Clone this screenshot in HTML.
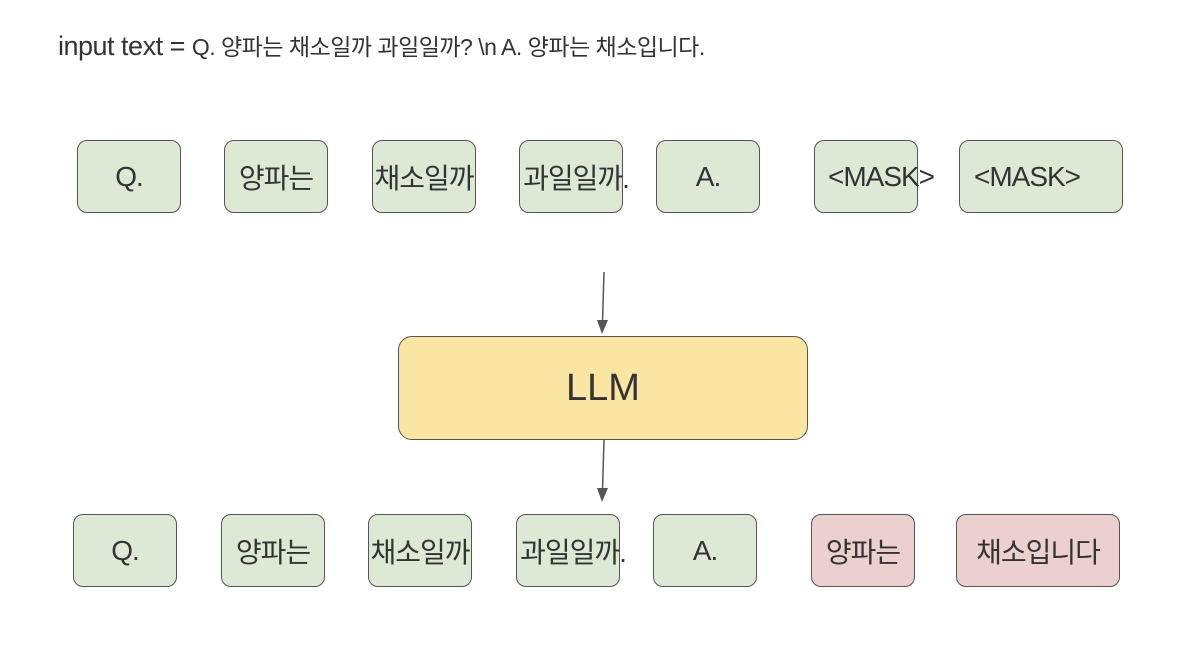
<!DOCTYPE html>
<html><head><meta charset="utf-8"><style>
body{margin:0;width:1192px;height:654px;background:#fff;position:relative;overflow:hidden;font-family:"Liberation Sans","Noto Sans CJK KR",sans-serif;color:#333}
.b{position:absolute;box-sizing:border-box;border:1.5px solid #555;border-radius:10px;background:#dde9d5;height:73px;display:flex;align-items:center;justify-content:center;font-size:28px;white-space:nowrap;letter-spacing:-1px}
.r{background:#eccfcf}
.t{position:absolute;font-size:28px;white-space:nowrap;letter-spacing:-1px}
</style></head><body>
<div style="position:absolute;left:58px;top:28px;font-size:27px;white-space:nowrap;letter-spacing:-0.5px">input text = <span style="font-size:23px">Q. 양파는 채소일까 과일일까? \n A. 양파는 채소입니다.</span></div>

<div class="b" style="left:77px;top:140px;width:104px">Q.</div>
<div class="b" style="left:224px;top:140px;width:104px">양파는</div>
<div class="b" style="left:372px;top:140px;width:104px;overflow:visible">채소일까</div>
<div class="b" style="left:519px;top:140px;width:104px;overflow:visible"><span style="margin-left:10px">과일일까.</span></div>
<div class="b" style="left:656px;top:140px;width:104px">A.</div>
<div class="b" style="left:814px;top:140px;width:104px;overflow:visible"><span style="margin-left:30px">&lt;MASK&gt;</span></div>
<div class="b" style="left:959px;top:140px;width:164px"><span style="margin-right:28px">&lt;MASK&gt;</span></div>

<div class="b" style="left:398px;top:336px;width:410px;height:104px;background:#fbe5a3;font-size:38px;border-radius:14px;letter-spacing:0">LLM</div>

<div class="b" style="left:73px;top:514px;width:104px">Q.</div>
<div class="b" style="left:221px;top:514px;width:104px">양파는</div>
<div class="b" style="left:368px;top:514px;width:104px">채소일까</div>
<div class="b" style="left:516px;top:514px;width:104px"><span style="margin-left:10px">과일일까.</span></div>
<div class="b" style="left:653px;top:514px;width:104px">A.</div>
<div class="b r" style="left:811px;top:514px;width:104px">양파는</div>
<div class="b r" style="left:956px;top:514px;width:164px">채소입니다</div>

<svg width="1192" height="654" style="position:absolute;left:0;top:0">
<g stroke="#555" stroke-width="1.5" fill="#555">
<line x1="604" y1="272" x2="602.5" y2="322"/><polygon points="597,320 608,320 602,334" stroke="none"/>
<line x1="604" y1="440" x2="602.5" y2="490"/><polygon points="597,488 608,488 602,502" stroke="none"/>
</g></svg>
</body></html>
